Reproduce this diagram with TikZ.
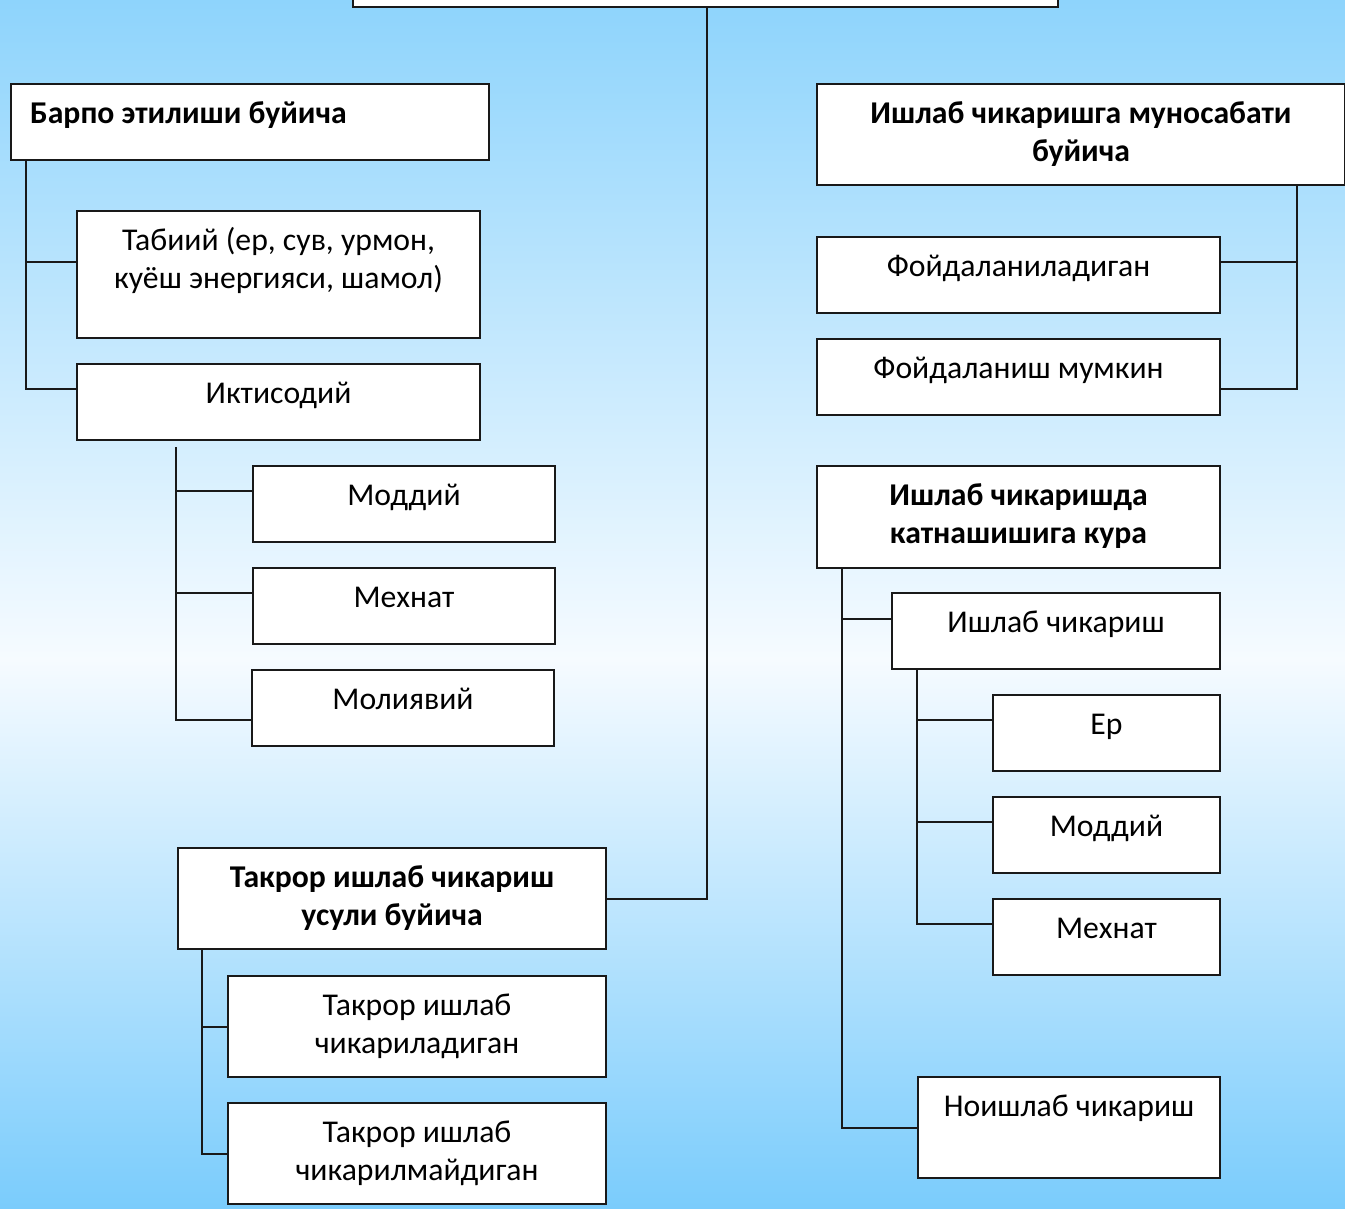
\documentclass[tikz,border=0pt]{standalone}
\usepackage{fontspec}
\setmainfont{Carlito}
\definecolor{bgtop}{RGB}{142,212,252}
\definecolor{bgmid}{RGB}{246,251,255}
\definecolor{bgbot}{RGB}{122,204,252}
\tikzset{
  bx/.style={draw=black!90, line width=2pt, fill=white, inner sep=0pt, anchor=north west},
  tx/.style={font=\fontsize{31.7}{38}\selectfont, align=center, inner sep=0pt, anchor=north},
  txb/.style={tx, font=\fontsize{31.7}{38}\selectfont\bfseries},
  ln/.style={draw=black!90, line width=2pt}
}
\begin{document}
\begin{tikzpicture}[x=1pt,y=-1pt]
\useasboundingbox (0,0) rectangle (1345,1209);
\clip (0,0) rectangle (1345,1209);
\shade[top color=bgtop, bottom color=bgmid] (0,0) rectangle (1345,660);
\shade[top color=bgmid, bottom color=bgbot] (0,659) rectangle (1345,1209);

% boxes
\node[bx, minimum width=705pt, minimum height=46pt] (top) at (352,-40) {};
\node[bx, minimum width=478pt, minimum height=76pt] (b1) at (10,83) {};
\node[bx, minimum width=403pt, minimum height=127pt] (tab) at (76,210) {};
\node[bx, minimum width=403pt, minimum height=76pt] (ikt) at (76,363) {};
\node[bx, minimum width=302pt, minimum height=76pt] (mod1) at (252,465) {};
\node[bx, minimum width=302pt, minimum height=76pt] (meh1) at (252,567) {};
\node[bx, minimum width=302pt, minimum height=76pt] (mol) at (251,669) {};
\node[bx, minimum width=428pt, minimum height=101pt] (tk) at (177,847) {};
\node[bx, minimum width=378pt, minimum height=101pt] (tk1) at (227,975) {};
\node[bx, minimum width=378pt, minimum height=101pt] (tk2) at (227,1102) {};
\node[bx, minimum width=528pt, minimum height=101pt] (ish1) at (816,83) {};
\node[bx, minimum width=403pt, minimum height=76pt] (foy1) at (816,236) {};
\node[bx, minimum width=403pt, minimum height=76pt] (foy2) at (816,338) {};
\node[bx, minimum width=403pt, minimum height=102pt] (ish2) at (816,465) {};
\node[bx, minimum width=328pt, minimum height=76pt] (ich) at (891,592) {};
\node[bx, minimum width=227pt, minimum height=76pt] (er) at (992,694) {};
\node[bx, minimum width=227pt, minimum height=76pt] (mod2) at (992,796) {};
\node[bx, minimum width=227pt, minimum height=76pt] (meh2) at (992,898) {};
\node[bx, minimum width=302pt, minimum height=101pt] (noi) at (917,1076) {};

% texts
\node[txb, anchor=north west] (b1t) at ([xshift=20pt,yshift=-14pt]b1.north west) {\strut Барпо этилиши буйича};
\node[tx] (tabt) at ([yshift=-14pt]tab.north) {\strut Табиий (ер, сув, урмон,\\куёш энергияси, шамол)};
\node[tx] (iktt) at ([yshift=-14pt]ikt.north) {\strut Иктисодий};
\node[tx] (mod1t) at ([yshift=-14pt]mod1.north) {\strut Моддий};
\node[tx] (meh1t) at ([yshift=-14pt]meh1.north) {\strut Мехнат};
\node[tx] (molt) at ([yshift=-14pt]mol.north) {\strut Молиявий};
\node[txb] (tkt) at ([yshift=-14pt]tk.north) {\strut Такрор ишлаб чикариш\\усули буйича};
\node[tx] (tk1t) at ([yshift=-14pt]tk1.north) {\strut Такрор ишлаб\\чикариладиган};
\node[tx] (tk2t) at ([yshift=-14pt]tk2.north) {\strut Такрор ишлаб\\чикарилмайдиган};
\node[txb] (ish1t) at ([yshift=-14pt]ish1.north) {\strut Ишлаб чикаришга муносабати\\буйича};
\node[tx] (foy1t) at ([yshift=-14pt]foy1.north) {\strut Фойдаланиладиган};
\node[tx] (foy2t) at ([yshift=-14pt]foy2.north) {\strut Фойдаланиш мумкин};
\node[txb] (ish2t) at ([yshift=-14pt]ish2.north) {\strut Ишлаб чикаришда\\катнашишига кура};
\node[tx] (icht) at ([yshift=-14pt]ich.north) {\strut Ишлаб чикариш};
\node[tx] (ert) at ([yshift=-14pt]er.north) {\strut Ер};
\node[tx] (mod2t) at ([yshift=-14pt]mod2.north) {\strut Моддий};
\node[tx] (meh2t) at ([yshift=-14pt]meh2.north) {\strut Мехнат};
\node[tx] (noit) at ([yshift=-14pt]noi.north) {\strut Ноишлаб чикариш};

% connectors
\draw[ln] ([xshift=1.5pt]top.south) |- (tk.east);

\draw[ln] ([xshift=16pt]b1.south west) |- ([yshift=12.5pt]tab.west);
\draw[ln] ([xshift=16pt]b1.south west) |- ([yshift=13pt]ikt.west);

\coordinate (ik0) at ([xshift=100pt,yshift=-6pt]ikt.south west);
\draw[ln] (ik0) |- ([yshift=13pt]mod1.west);
\draw[ln] (ik0) |- ([yshift=13pt]meh1.west);
\draw[ln] (ik0) |- ([yshift=-12pt]mol.west);

\draw[ln] ([xshift=25pt]tk.south west) |- (tk1.west);
\draw[ln] ([xshift=25pt]tk.south west) |- (tk2.west);

\draw[ln] ([xshift=-49pt]ish1.south east) |- ([yshift=13pt]foy1.east);
\draw[ln] ([xshift=-49pt]ish1.south east) |- ([yshift=-12pt]foy2.east);

\draw[ln] ([xshift=26pt]ish2.south west) |- ([yshift=12pt]ich.west);
\draw[ln] ([xshift=26pt]ish2.south west) |- (noi.west);

\draw[ln] ([xshift=26pt]ich.south west) |- ([yshift=13pt]er.west);
\draw[ln] ([xshift=26pt]ich.south west) |- ([yshift=13pt]mod2.west);
\draw[ln] ([xshift=26pt]ich.south west) |- ([yshift=13pt]meh2.west);
\end{tikzpicture}
\end{document}
